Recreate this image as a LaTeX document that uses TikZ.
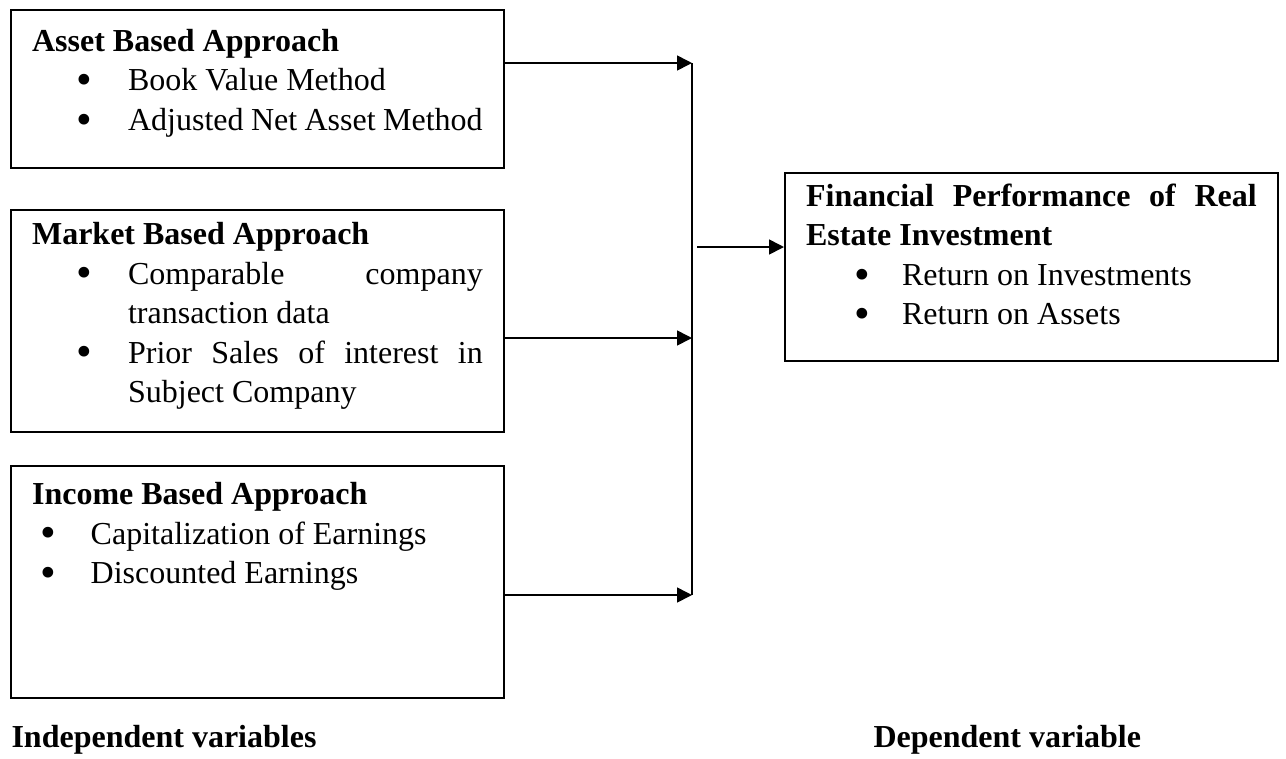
\documentclass[tikz,border=0pt]{standalone}
\usepackage{fontspec}
\setmainfont{Liberation Serif}
\usetikzlibrary{positioning, arrows.meta}

% Box contents: fixed height, top aligned, justified
\newcommand{\boxtext}[4]{\parbox[t][#1][t]{169pt}{\hyphenpenalty=10000\tolerance=9999\relax
  \rule{0pt}{#2}\textbf{#3}\par #4}}
\newcommand{\listbullet}{\smash{\raisebox{-1.4pt}{\scalebox{1.4}{\textbullet}}}}
\newenvironment{bulletlist}[2]{\begin{list}{\listbullet}{%
  \setlength{\leftmargin}{#1}\setlength{\labelsep}{#2}%
  \setlength{\labelwidth}{\dimexpr#1-#2\relax}%
  \setlength{\topsep}{0pt}\setlength{\partopsep}{0pt}%
  \setlength{\itemsep}{0pt}\setlength{\parsep}{0pt}}}{\end{list}}

\tikzset{
  varbox/.style={draw, line width=0.75pt, anchor=north west, inner xsep=7.9pt, inner ysep=0pt},
  flow/.style={-{Triangle[length=5.6pt,width=5.6pt]}, line width=0.6pt},
}

\begin{document}
\begin{tikzpicture}[x=0.375pt, y=-0.375pt, font=\fontsize{12pt}{14.8pt}\selectfont]
\useasboundingbox (0,0) rectangle (1286,758);
% Independent variables
\node[varbox] (asset) at (10,9) {\boxtext{59.25pt}{15.5pt}{Asset Based Approach}{%
  \begin{bulletlist}{36pt}{13.5pt}
  \item Book Value Method
  \item Adjusted Net Asset Method
  \end{bulletlist}}};
\node[varbox] (market) at (10,209) {\boxtext{83.25pt}{13pt}{Market Based Approach}{%
  \begin{bulletlist}{36pt}{13.5pt}
  \item Comparable company transaction data
  \item Prior Sales of interest in Subject Company
  \end{bulletlist}}};
\node[varbox] (income) at (10,465) {\boxtext{87pt}{14.5pt}{Income Based Approach}{%
  \begin{bulletlist}{22pt}{13pt}
  \item Capitalization of Earnings
  \item Discounted Earnings
  \end{bulletlist}}};
% Dependent variable
\node[varbox] (perf) at (784,172) {\boxtext{70.5pt}{12.5pt}{Financial Performance of Real Estate Investment}{%
  \begin{bulletlist}{36pt}{12pt}
  \item Return on Investments
  \item Return on Assets
  \end{bulletlist}}};
% Arrows into the joining line
\coordinate (j1) at (692,63);
\coordinate (j2) at (692,338);
\coordinate (j3) at (692,595);
\draw[flow] (asset.east |- j1) -- (j1);
\draw[flow] (market.east |- j2) -- (j2);
\draw[flow] (income.east |- j3) -- (j3);
\draw[line width=0.6pt] (j1) -- (j3);
% Arrow to dependent variable
\coordinate (out) at (697,247);
\draw[flow] (out) -- (perf.west |- out);
% Captions
\node[anchor=base west, inner sep=0pt] (indep) at (11,747) {\textbf{Independent variables}};
\node[anchor=base west, inner sep=0pt] (dep) at (873,747) {\textbf{Dependent variable}};
\end{tikzpicture}
\end{document}
